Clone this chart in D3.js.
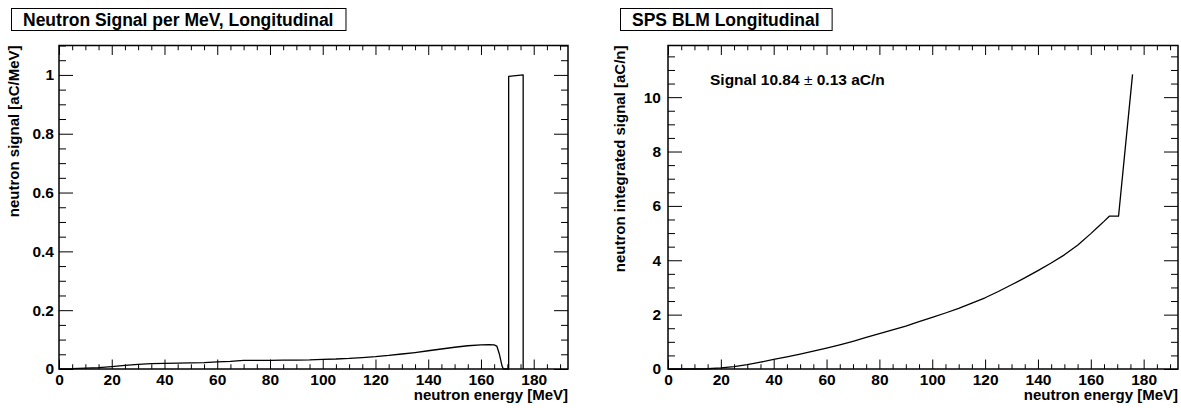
<!DOCTYPE html>
<html>
<head>
<meta charset="utf-8">
<script src="https://cdn.jsdelivr.net/npm/d3@7"></script>
<style>
  body { margin: 0; background: #fff; }
  svg { display: block; }
  text { font-family: "Liberation Sans", Arial, Helvetica, sans-serif; font-weight: bold; fill: #000; }
  .domain { display: none; }
  .tick line { stroke: #000; stroke-width: 1; }
</style>
</head>
<body>
<svg id="chart" width="1181" height="408"></svg>
<script>
  // energy axis shared by both panels
  const energyTicks = [0, 20, 40, 60, 80, 100, 120, 140, 160, 180];
  const energyDomain = [0, 193];

  // left panel: neutron signal per MeV
  const signalEnergy = [0, 5, 10, 15, 20, 25, 30, 35, 40, 45, 50, 55, 60, 65, 70, 75, 80, 85, 90, 95, 100,
    105, 110, 115, 120, 125, 130, 135, 140, 145, 150, 155, 160, 163, 165, 166, 167, 168, 168.5,
    170.5, 170.5, 176, 176];
  const signalPerMeV = [0, 0.001, 0.003, 0.005, 0.008, 0.012, 0.016, 0.018, 0.019, 0.020, 0.021, 0.022, 0.024,
    0.026, 0.029, 0.029, 0.029, 0.030, 0.030, 0.031, 0.033, 0.034, 0.036, 0.039, 0.042, 0.046, 0.051,
    0.056, 0.062, 0.068, 0.074, 0.079, 0.082, 0.083, 0.082, 0.078, 0.050, 0.010, 0,
    0, 0.995, 1.0, 0];
  const signalTicks = [0, 0.2, 0.4, 0.6, 0.8, 1];
  const signalDomain = [0, 1.1];

  // right panel: integrated signal
  const integratedEnergy = [0, 10, 15, 20, 25, 30, 35, 40, 45, 50, 55, 60, 65, 70, 75, 80, 85, 90, 95, 100,
    105, 110, 115, 120, 125, 130, 135, 140, 145, 150, 155, 160, 163, 165, 167, 170.5, 175.8];
  const integratedSignal = [0, 0, 0.01, 0.04, 0.09, 0.16, 0.25, 0.35, 0.45, 0.55, 0.66, 0.77, 0.89, 1.02,
    1.16, 1.3, 1.44, 1.58, 1.74, 1.9, 2.06, 2.23, 2.42, 2.62, 2.85, 3.1, 3.35, 3.62, 3.9, 4.2, 4.55,
    4.98, 5.25, 5.43, 5.62, 5.62, 10.84];
  const integratedTicks = [0, 2, 4, 6, 8, 10];
  const integratedDomain = [0, 11.9];

  const svg = d3.select("#chart");

  function minorTicks(domain, step) {
    const ticks = [];
    for (let v = 0; v <= domain[1] + 1e-9; v += step) ticks.push(+v.toFixed(4));
    return ticks;
  }

  function drawPanel(cfg) {
    const { left, top, right, bottom } = cfg.frame;
    const x = d3.scaleLinear().domain(energyDomain).range([left, right]);
    const y = d3.scaleLinear().domain(cfg.yDomain).range([bottom, top]);
    const g = svg.append("g");

    // title box
    const title = g.append("text")
      .attr("x", cfg.titleX).attr("y", 25.5)
      .attr("font-size", 17.5)
      .text(cfg.title);
    const tw = title.node().getComputedTextLength();
    g.insert("rect", "text")
      .attr("x", cfg.titleX - 11.5).attr("y", 8.5)
      .attr("width", tw + 24).attr("height", 22)
      .attr("fill", "#fff").attr("stroke", "#000").attr("stroke-width", 1);

    const xMinor = minorTicks(energyDomain, 5).filter((v) => v % 20 !== 0);
    const yMinor = minorTicks(cfg.yDomain, cfg.yMinorStep)
      .filter((v) => !cfg.yTicks.some((t) => Math.abs(t - v) < 1e-6));

    const xLen = 9.5, yLen = 14;

    g.append("g").attr("transform", `translate(0,${bottom})`)
      .call(d3.axisBottom(x).tickValues(energyTicks).tickSize(-xLen).tickPadding(5).tickFormat(d3.format("d")))
      .call((a) => a.selectAll("text").attr("font-size", 15.5));
    g.append("g").attr("transform", `translate(0,${bottom})`)
      .call(d3.axisBottom(x).tickValues(xMinor).tickSize(-xLen / 2).tickFormat(""));
    g.append("g").attr("transform", `translate(0,${top})`)
      .call(d3.axisTop(x).tickValues(energyTicks).tickSize(-xLen).tickFormat(""));
    g.append("g").attr("transform", `translate(0,${top})`)
      .call(d3.axisTop(x).tickValues(xMinor).tickSize(-xLen / 2).tickFormat(""));

    g.append("g").attr("transform", `translate(${left},0)`)
      .call(d3.axisLeft(y).tickValues(cfg.yTicks).tickSize(-yLen).tickPadding(cfg.yPad).tickFormat(d3.format("~g")))
      .call((a) => a.selectAll("text").attr("font-size", 15.5));
    g.append("g").attr("transform", `translate(${left},0)`)
      .call(d3.axisLeft(y).tickValues(yMinor).tickSize(-yLen / 2).tickFormat(""));
    g.append("g").attr("transform", `translate(${right},0)`)
      .call(d3.axisRight(y).tickValues(cfg.yTicks).tickSize(-yLen).tickFormat(""));
    g.append("g").attr("transform", `translate(${right},0)`)
      .call(d3.axisRight(y).tickValues(yMinor).tickSize(-yLen / 2).tickFormat(""));

    g.selectAll(".tick text").attr("font-family", null);

    // frame
    g.append("rect")
      .attr("x", left).attr("y", top)
      .attr("width", right - left).attr("height", bottom - top)
      .attr("fill", "none").attr("stroke", "#000").attr("stroke-width", 1.5);

    // curve
    const points = cfg.xs.map((e, i) => [e, cfg.ys[i]]);
    g.append("path")
      .datum(points)
      .attr("fill", "none").attr("stroke", "#000").attr("stroke-width", 1.3)
      .attr("stroke-linejoin", "round")
      .attr("d", d3.line().x((d) => x(d[0])).y((d) => y(d[1])));

    // axis titles
    g.append("text")
      .attr("x", right).attr("y", 400)
      .attr("text-anchor", "end").attr("font-size", 15)
      .text("neutron energy [MeV]");
    g.append("text")
      .attr("transform", `translate(${cfg.yTitleX},${top}) rotate(-90)`)
      .attr("text-anchor", "end").attr("font-size", 15)
      .text(cfg.yTitle);

    return { g, x, y };
  }

  drawPanel({
    frame: { left: 59, top: 45.5, right: 568, bottom: 369 },
    title: "Neutron Signal per MeV, Longitudinal",
    titleX: 23,
    xs: signalEnergy, ys: signalPerMeV,
    yDomain: signalDomain, yTicks: signalTicks, yMinorStep: 0.05, yPad: 5,
    yTitle: "neutron signal [aC/MeV]", yTitleX: 19,
  });

  const rightPanel = drawPanel({
    frame: { left: 668, top: 45.5, right: 1178, bottom: 369 },
    title: "SPS BLM Longitudinal",
    titleX: 632,
    xs: integratedEnergy, ys: integratedSignal,
    yDomain: integratedDomain, yTicks: integratedTicks, yMinorStep: 0.5, yPad: 7,
    yTitle: "neutron integrated signal [aC/n]", yTitleX: 625,
  });

  const note = rightPanel.g.append("text")
    .attr("x", 710).attr("y", 85).attr("font-size", 15.5);
  note.append("tspan").text("Signal 10.84 ");
  note.append("tspan").attr("font-weight", "normal").text("±");
  note.append("tspan").text(" 0.13 aC/n");
</script>
</body>
</html>
